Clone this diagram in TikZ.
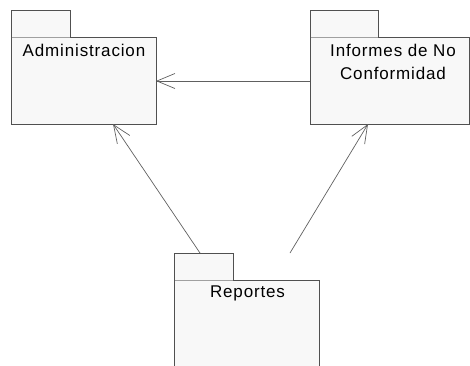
\documentclass[tikz,border=0pt]{standalone}
\usepackage{fontspec}
\setmainfont{Liberation Sans}
\usetikzlibrary{arrows.meta}
\definecolor{pkgfill}{HTML}{F8F8F8}
\definecolor{pkgline}{HTML}{505050}
\definecolor{tabsep}{HTML}{A0A0A0}
\definecolor{conline}{HTML}{606060}
\tikzset{
  pkgtab/.style={draw=pkgline, fill=pkgfill, line width=0.9pt},
  pkgbody/.style={draw=pkgline, fill=pkgfill, line width=0.9pt},
  pkglabel/.style={font=\fontsize{17}{23}\selectfont\addfontfeature{LetterSpace=5}, align=center, text=black, inner sep=0pt, anchor=north},
  dep/.style={draw=conline, line width=0.7pt, -{Straight Barb[length=18pt,width=15pt,line width=0.7pt]}}
}
\begin{document}
\begin{tikzpicture}[x=1pt,y=-1pt]
\path[use as bounding box] (0,0) rectangle (470,365);
\clip (0,0) rectangle (470,365);
% Administracion
\draw[pkgtab] (11,10.5) rectangle (70,37);
\draw[pkgbody] (11,37) rectangle (156,124);
\draw[tabsep,line width=0.9pt] (11.5,37) -- (69.5,37);
\coordinate (admE) at (156,81);
\coordinate (admS) at (113,124);
\node[pkglabel] (adm) at (84,44) {Administracion};
% Informes
\draw[pkgtab] (310,10.5) rectangle (378,37);
\draw[pkgbody] (310,37) rectangle (469,124);
\draw[tabsep,line width=0.9pt] (310.5,37) -- (377.5,37);
\coordinate (infW) at (310,81);
\coordinate (infS) at (368,124);
\node[pkglabel] (inf) at (393,44) {Informes de No\\Conformidad};
% Reportes
\draw[pkgtab] (174.5,253.5) rectangle (233,280);
\draw[pkgbody] (174.5,280) rectangle (319.5,400);
\draw[tabsep,line width=0.9pt] (175,280) -- (232.5,280);
\coordinate (repL) at (200,253);
\coordinate (repR) at (290,253);
\node[pkglabel] (rep) at (247.5,286) {Reportes};
% dependencies
\draw[dep] (infW) -- (admE);
\draw[dep] (repL) -- (admS);
\draw[dep] (repR) -- (infS);
\end{tikzpicture}
\end{document}
